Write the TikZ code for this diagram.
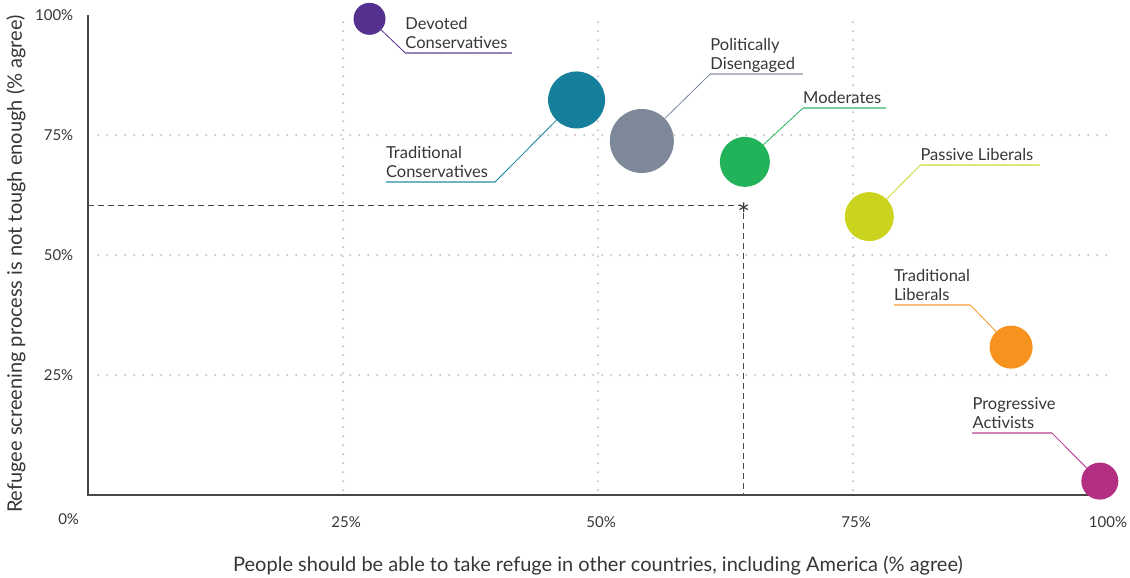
\documentclass[tikz,border=0pt]{standalone}
\usepackage{fontspec}
\setmainfont{Lato}
\usepackage{xcolor}
\usetikzlibrary{positioning}

\definecolor{ink}{HTML}{363636}
\definecolor{axisgray}{HTML}{474747}
\definecolor{dotgray}{HTML}{C2C2C2}
\definecolor{devoted}{HTML}{55318F}
\definecolor{tradcons}{HTML}{167F9B}
\definecolor{poldis}{HTML}{7D8898}
\definecolor{moderate}{HTML}{22B25A}
\definecolor{passive}{HTML}{CAD41F}
\definecolor{tradlib}{HTML}{F6931F}
\definecolor{progress}{HTML}{B32F84}

\begin{document}
\begin{tikzpicture}[x=10.2pt, y=4.8pt,
    every node/.style = {text=ink, font=\fontsize{16.5}{19}\selectfont},
    bubble/.style = {circle, fill=#1, draw=none, inner sep=0pt},
    tag/.style = {align=left, inner sep=0pt, text depth=0pt},
    leader/.style = {#1, line width=0.8pt},
    underline/.style = {#1!60, line width=1.7pt},
    tick/.style = {font=\fontsize{15}{18}\selectfont},
    title/.style = {font=\fontsize{20}{24}\selectfont},
    gridline/.style = {dotgray, line width=2.2pt, line cap=round,
      dash pattern=on 0pt off 9pt},
    meanline/.style = {axisgray, line width=1.1pt, dash pattern=on 6pt off 4pt}]
  \useasboundingbox (-88pt,-83pt) rectangle ++(1130pt,578pt);

  \foreach \v in {25,50,75} {
    \draw[gridline] (1,\v) -- (100,\v);
    \draw[gridline] (\v,1) -- (\v,100);
    \node[tick, anchor=east] (y\v) at (-1.1,\v) {\v\%};
    \node[tick] (x\v) at (\v+0.3,-5.6) {\v\%};
  }
  \node[tick, anchor=east] (y100) at (-1.1,100) {100\%};
  \node[tick] (x100) at (100,-5.6) {100\%};
  \node[tick] (x0) at (-1.9,-5) {0\%};
  \draw[axisgray, line width=1.3pt] (0,100) -- (0,0) -- (100,0);

  % average point
  \coordinate (avgy) at (0,60.4);
  \coordinate (avgh) at (63.95,60.4);
  \coordinate (avgv) at (64.3,58.7);
  \coordinate (avgx) at (64.3,0);
  \draw[meanline] (avgy) -- (avgh);
  \draw[meanline] (avgv) -- (avgx);
  \node[inner sep=0pt, anchor=base, font=\fontsize{30}{30}\selectfont, yshift=-20pt]
    (star) at (64.3,60.4) {*};

  \node[bubble=devoted, minimum size=32pt] (dc) at (27.6,99.2) {};
  \node[bubble=tradcons, minimum size=57pt] (tc) at (47.9,82.3) {};
  \node[bubble=poldis, minimum size=64pt] (pd) at (54.3,73.75) {};
  \node[bubble=moderate, minimum size=50pt] (mo) at (64.4,69.4) {};
  \node[bubble=passive, minimum size=49pt] (pl) at (76.6,58) {};
  \node[bubble=tradlib, minimum size=43pt] (tl) at (90.5,30.8) {};
  \node[bubble=progress, minimum size=37pt] (pa) at (99.2,2.9) {};

  % leaders and labels
  \coordinate (dck) at (31.1,92.1);   \coordinate (dce) at (41.6,92.1);
  \coordinate (tck) at (39.9,65.2);   \coordinate (tce) at (29.2,65.2);
  \coordinate (pdk) at (61.0,87.7);   \coordinate (pde) at (70.1,87.7);
  \coordinate (mok) at (70.1,80.6);   \coordinate (moe) at (78.2,80.6);
  \coordinate (plk) at (81.6,68.75);  \coordinate (ple) at (93.3,68.75);
  \coordinate (tlk) at (86.5,39.6);   \coordinate (tle) at (79.0,39.6);
  \coordinate (pak) at (94.5,12.9);   \coordinate (pae) at (86.7,12.9);

  \draw[leader=devoted] (dc) -- (dck);  \draw[underline=devoted] (dck) -- (dce);
  \draw[leader=tradcons] (tc) -- (tck); \draw[underline=tradcons] (tck) -- (tce);
  \draw[leader=poldis] (pd) -- (pdk);   \draw[underline=poldis] (pdk) -- (pde);
  \draw[leader=moderate] (mo) -- (mok); \draw[underline=moderate] (mok) -- (moe);
  \draw[leader=passive] (pl) -- (plk);  \draw[underline=passive] (plk) -- (ple);
  \draw[leader=tradlib] (tl) -- (tlk);  \draw[underline=tradlib] (tlk) -- (tle);
  \draw[leader=progress] (pa) -- (pak); \draw[underline=progress] (pak) -- (pae);

  \node[tag, above right=4.5pt and 0pt of dck] (dct) {Devoted\\Conservatives};
  \node[tag, above right=4.5pt and 0pt of tce] (tct) {Traditional\\Conservatives};
  \node[tag, above right=4.5pt and 0pt of pdk] (pdt) {Politically\\Disengaged};
  \node[tag, above right=4.5pt and 0pt of mok] (mot) {Moderates};
  \node[tag, above right=4.5pt and 0pt of plk] (plt) {Passive Liberals};
  \node[tag, above right=4.5pt and 0pt of tle] (tlt) {Traditional\\Liberals};
  \node[tag, above right=4.5pt and 0pt of pae] (pat) {Progressive\\Activists};

  \node[title] (xtitle) at (50,-14.6)
    {People should be able to take refuge in other countries, including America (\% agree)};
  \node[title, rotate=90] (ytitle) at (-7.06,48.1)
    {Refugee screening process is not tough enough (\% agree)};
\end{tikzpicture}
\end{document}
